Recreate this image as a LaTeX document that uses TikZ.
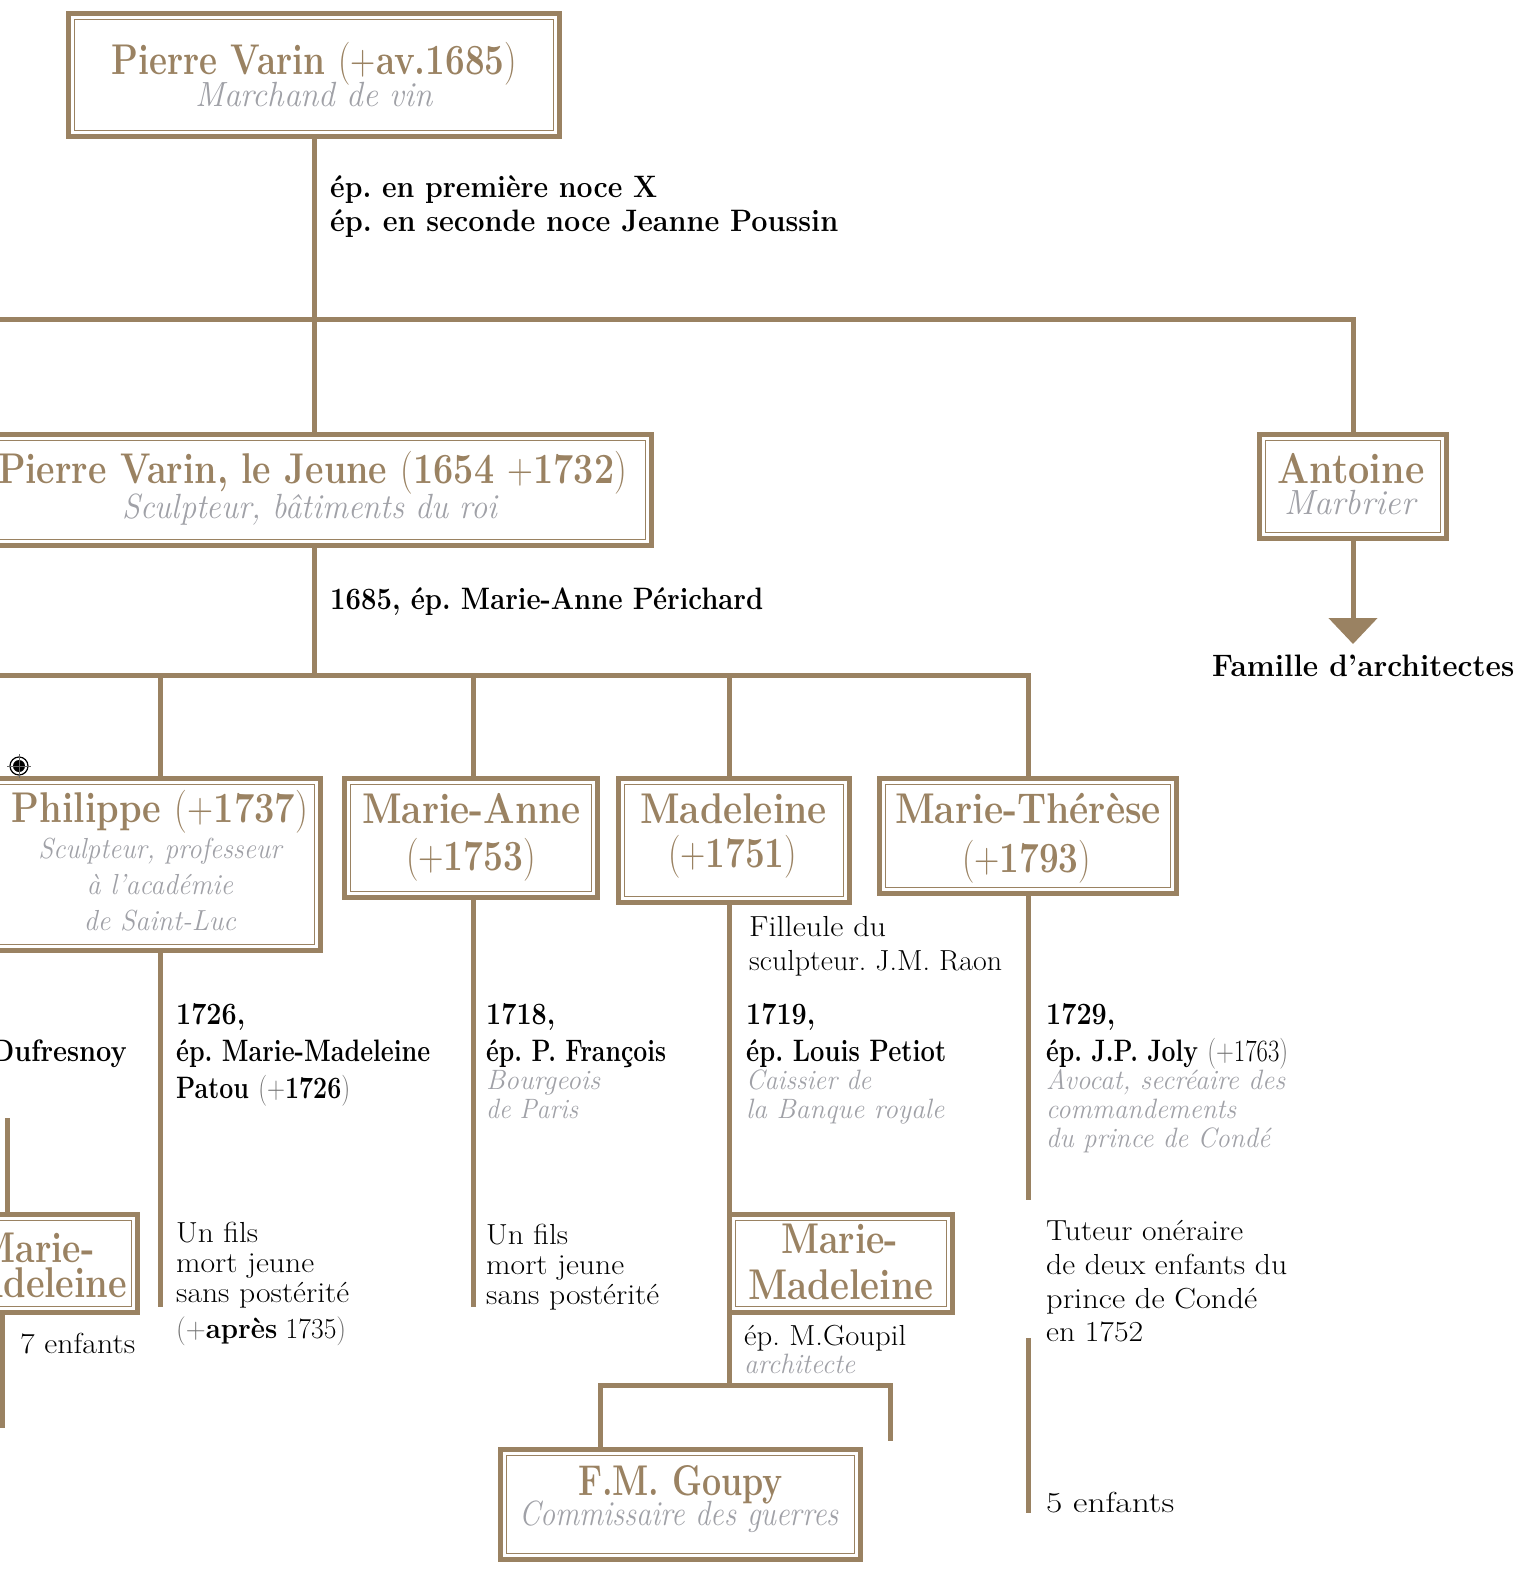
\documentclass[tikz,border=0pt]{standalone}
\usepackage{graphicx}
\usetikzlibrary{arrows.meta}
\definecolor{brn}{RGB}{154,130,98}
\definecolor{gry}{RGB}{160,161,167}
\newcommand\fw[2]{\resizebox{#1pt}{\height}{#2}}
\newcommand\lp[1]{{\mdseries #1}}
\newcommand\lk[1]{{\mdseries\color{black!55}#1}}
\newcommand\tx[6]{\node[#1,anchor=#2] (#3) at (#4) {\fw{#5}{#6}};}
\newcommand\famb[5]{%
  \node[fam, minimum width={#4-#2-5}, minimum height={#5-#3-5}] (#1) at ({(#2+#4)/2},{(#3+#5)/2}) {};
  \draw[inr] ([shift={(6pt,-6pt)}]#1.north west) rectangle ([shift={(-6pt,6pt)}]#1.south east);}
\begin{document}
\frenchspacing
\begin{tikzpicture}[x=1pt,y=-1pt,
  conn/.style={draw=brn,line width=5pt},
  fam/.style={draw=brn,line width=5pt,inner sep=0pt,outer sep=0pt,rectangle},
  inr/.style={draw=brn,line width=1.5pt},
  nm/.style={font=\fontsize{43}{43}\selectfont\bfseries\frenchspacing, text=brn, inner sep=0pt},
  sub/.style={font=\fontsize{35}{35}\selectfont\itshape\frenchspacing, text=gry, inner sep=0pt},
  subs/.style={font=\fontsize{29}{29}\selectfont\itshape\frenchspacing, text=gry, inner sep=0pt},
  lab/.style={font=\fontsize{31}{31}\selectfont\bfseries\frenchspacing, text=black, inner sep=0pt},
  reg/.style={font=\fontsize{29}{29}\selectfont\frenchspacing, text=black, inner sep=0pt},
  note/.style={font=\fontsize{28}{28}\selectfont\itshape\frenchspacing, text=gry, inner sep=0pt}]
\useasboundingbox (0,0) rectangle (1534,1570);
\clip (0,0) rectangle (1534,1570);

% ---------- boxes ----------
\famb{A}{66}{11}{562}{139}
\famb{B}{-26}{432}{654}{548}
\famb{C}{1257}{432}{1449}{541}
\famb{Ph}{-9}{776}{323}{953}
\famb{MA}{342}{776}{600}{900}
\famb{Md}{616}{776}{852}{905}
\famb{MT}{877}{776}{1179}{896}
\famb{MM}{727}{1212}{955}{1315}
\famb{LB}{-84}{1212}{140}{1315}
\famb{G}{498}{1447}{863}{1562}

% ---------- coordinates ----------
\coordinate (L1) at (-20,319);
\coordinate (L2) at (-20,675);
\coordinate (d1) at (160,675);
\coordinate (d2) at (473,675);
\coordinate (d3) at (729,675);
\coordinate (e1) at (160,1307);
\coordinate (e2) at (473,1307);
\coordinate (h3) at (600,1385);
\coordinate (e5) at (890,1441);
\coordinate (e6) at (1028,1200);
\coordinate (e7a) at (1028,1338);
\coordinate (e7b) at (1028,1513);
\coordinate (e8) at (7,1118);
\coordinate (e9) at (2,1428);
\coordinate (tip) at (1355,644);

% ---------- connectors ----------
\draw[conn] (A.south) -- (B.north);
\draw[conn] (L1) -| (C.north);
\draw[conn] (B.south) -- (B.south |- L2);
\draw[conn] (L2) -| (MT.north);
\draw[conn] (d1) -- (d1 |- Ph.north);
\draw[conn] (d2) -- (d2 |- MA.north);
\draw[conn] (d3) -- (d3 |- Md.north);
\draw[conn] (e1 |- Ph.south) -- (e1);
\draw[conn] (e2 |- MA.south) -- (e2);
\draw[conn] (d3 |- Md.south) -- (d3 |- MM.north);
\draw[conn] (d3 |- MM.south) -- (d3 |- h3);
\draw[conn] (h3 |- G.north) |- (e5 |- h3) -- (e5);
\draw[conn] (e6 |- MT.south) -- (e6);
\draw[conn] (e7a) -- (e7b);
\draw[conn] (e8) -- (e8 |- LB.north);
\draw[conn] (e9 |- LB.south) -- (e9);
\draw[conn,-{Triangle[width=48pt,length=26pt]}] (C.south) -- (C.south |- tip);

% ---------- box texts ----------
\tx{nm}{base}{tA1}{314.5,75}{405}{Pierre Varin \lp{(+}av.1685\lp{)}}
\tx{sub}{base}{tA2}{314,107}{238}{Marchand de vin}
\tx{nm}{base}{tB1}{312.5,483}{629}{Pierre Varin, le Jeune \lp{(}1654 \lp{+}1732\lp{)}}
\tx{sub}{base}{tB2}{310,518}{375}{Sculpteur, bâtiments du roi}
\tx{nm}{base}{tC1}{1351,483}{147}{Antoine}
\tx{sub}{base}{tC2}{1350,514}{131}{Marbrier}
\tx{nm}{base}{tP1}{160,822}{296}{Philippe \lp{(+}1737\lp{)}}
\tx{subs}{base}{tP2}{160,858}{243}{Sculpteur, professeur}
\tx{subs}{base}{tP3}{160,894}{146}{à l’académie}
\tx{subs}{base}{tP4}{160,930}{152}{de Saint-Luc}
\tx{nm}{base}{tMA1}{471.5,823}{219}{Marie-Anne}
\tx{nm}{base}{tMA2}{471,870}{130}{\lp{(+}1753\lp{)}}
\tx{nm}{base}{tMd1}{733.5,823}{187}{Madeleine}
\tx{nm}{base}{tMd2}{732.5,867}{129}{\lp{(+}1751\lp{)}}
\tx{nm}{base}{tMT1}{1028,823}{266}{Marie-Thérèse}
\tx{nm}{base}{tMT2}{1026.5,872}{129}{\lp{(+}1793\lp{)}}
\tx{nm}{base}{tMM1}{839.5,1253}{117}{Marie-}
\tx{nm}{base}{tMM2}{840.5,1299}{185}{Madeleine}
\tx{nm}{base}{tLB1}{36,1262}{117}{Marie-}
\tx{nm}{base}{tLB2}{36,1297}{182}{Madeleine}
\tx{nm}{base}{tG1}{680.5,1495}{205}{F.M. Goupy}
\tx{sub}{base}{tG2}{679,1525}{320}{Commissaire des guerres}

% ---------- labels ----------
\tx{lab}{base west}{l1}{330,198}{327}{ép. en première noce X}
\tx{lab}{base west}{l2}{330,232}{508}{ép. en seconde noce Jeanne Poussin}
\tx{lab}{base west}{l3}{330,609}{433}{1685, ép. Marie-Anne Périchard}
\tx{lab}{base west}{l4}{1212,676}{302}{Famille d’architectes}
\tx{lab}{base east}{l5}{127,1061}{136}{Dufresnoy}

\tx{lab}{base west}{c1a}{176,1024}{69}{1726,}
\tx{lab}{base west}{c1b}{176,1061}{254}{ép. Marie-Madeleine}
\tx{lab}{base west}{c1c}{176,1098}{174}{Patou \lk{(+}1726\lk{)}}
\tx{reg}{base west}{c1d}{176,1242}{82}{Un fils}
\tx{reg}{base west}{c1e}{176,1272}{138}{mort jeune}
\tx{reg}{base west}{c1f}{176,1302}{173}{sans postérité}
\tx{reg}{base west}{c1g}{176,1338}{170}{\lk{(+}{\bfseries après} 1735\lk{)}}

\tx{lab}{base west}{c2a}{486,1024}{69}{1718,}
\tx{lab}{base west}{c2b}{486,1061}{180}{ép. P. François}
\tx{note}{base west}{c2c}{486,1089}{114}{Bourgeois}
\tx{note}{base west}{c2d}{486,1118}{92}{de Paris}
\tx{reg}{base west}{c2e}{486,1244}{82}{Un fils}
\tx{reg}{base west}{c2f}{486,1274}{138}{mort jeune}
\tx{reg}{base west}{c2g}{486,1304}{173}{sans postérité}

\tx{reg}{base west}{f1}{749,936}{137}{Filleule du}
\tx{reg}{base west}{f2}{749,970}{253}{sculpteur. J.M. Raon}

\tx{lab}{base west}{c3a}{746,1024}{69}{1719,}
\tx{lab}{base west}{c3b}{746,1061}{200}{ép. Louis Petiot}
\tx{note}{base west}{c3c}{746,1089}{125}{Caissier de}
\tx{note}{base west}{c3d}{746,1118}{198}{la Banque royale}

\tx{lab}{base west}{c4a}{1046,1024}{69}{1729,}
\tx{lab}{base west}{c4b}{1046,1061}{242}{ép. J.P. Joly \lk{(+}{\mdseries 1763}\lk{)}}
\tx{note}{base west}{c4c}{1046,1089}{239}{Avocat, secréaire des}
\tx{note}{base west}{c4d}{1046,1118}{190}{commandements}
\tx{note}{base west}{c4e}{1046,1147}{224}{du prince de Condé}
\tx{reg}{base west}{c4f}{1046,1240}{197}{Tuteur onéraire}
\tx{reg}{base west}{c4g}{1046,1274}{241}{de deux enfants du}
\tx{reg}{base west}{c4h}{1046,1308}{211}{prince de Condé}
\tx{reg}{base west}{c4i}{1046,1341}{97}{en 1752}
\tx{reg}{base west}{c4j}{1046,1512}{128}{5 enfants}

\tx{reg}{base west}{g1}{744,1345}{162}{ép. M.Goupil}
\tx{note}{base west}{g2}{744,1373}{111}{architecte}
\tx{reg}{base west}{s7}{20,1353}{115}{7 enfants}

% ---------- target mark ----------
\fill[black] (19,766) circle[radius=6pt];
\draw[black,line width=1.2pt] (19,766) circle[radius=9pt];
\draw[black!60,line width=0.8pt] (7,766) -- (31,766) (19,754) -- (19,778);
\end{tikzpicture}
\end{document}
